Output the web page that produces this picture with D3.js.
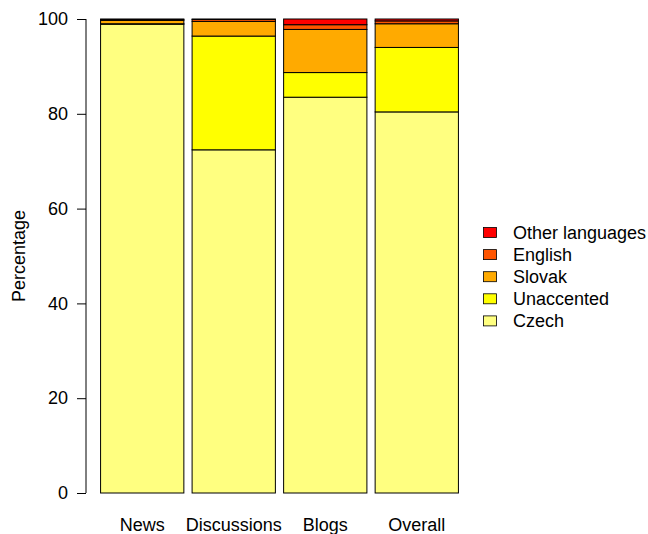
<!DOCTYPE html>
<html>
<head>
<meta charset="utf-8">
<script src="https://cdn.jsdelivr.net/npm/d3@7"></script>
<style>
  body { margin: 0; background: #fff; overflow: hidden; }
  text { font-family: "Liberation Sans", Arial, sans-serif; }
</style>
</head>
<body>
<script>
// Data
const categories = ["News", "Discussions", "Blogs", "Overall"];
const languages = ["Czech", "Unaccented", "Slovak", "English", "Other languages"];
const czech = [98.9, 72.4, 83.5, 80.4];
const unaccented = [0.1, 24.0, 5.2, 13.6];
const slovak = [0.7, 3.1, 9.1, 5.0];
const english = [0.2, 0.4, 1.0, 0.6];
const other = [0.1, 0.1, 1.2, 0.4];
const colors = ["#FFFF80", "#FFFF00", "#FFAA00", "#FF5500", "#FF0000"];
const yTicks = [0, 20, 40, 60, 80, 100];

const width = 648, height = 534;

const svg = d3.select("body").append("svg")
  .attr("width", width)
  .attr("height", height);

// table for stacking
const table = categories.map((c, i) => ({
  cat: c,
  "Czech": czech[i],
  "Unaccented": unaccented[i],
  "Slovak": slovak[i],
  "English": english[i],
  "Other languages": other[i]
}));
const series = d3.stack().keys(languages)(table);

// Scales
const x = d3.scaleBand()
  .domain(categories)
  .range([96, 463])
  .paddingInner(0.09)
  .paddingOuter(0.05);

const y = d3.scaleLinear()
  .domain([0, 100])
  .range([493, 19]);

// Bars
svg.append("g")
  .selectAll("g")
  .data(series)
  .join("g")
  .attr("fill", (d, i) => colors[i])
  .selectAll("rect")
  .data(d => d)
  .join("rect")
  .attr("x", d => x(d.data.cat))
  .attr("y", d => y(d[1]))
  .attr("width", x.bandwidth())
  .attr("height", d => y(d[0]) - y(d[1]))
  .attr("stroke", "#000")
  .attr("stroke-width", 1);

// Y axis
const yAxis = svg.append("g")
  .attr("transform", "translate(86,0)")
  .call(d3.axisLeft(y).tickValues(yTicks).tickSize(9).tickPadding(9));
yAxis.select(".domain").remove();
yAxis.append("line")
  .attr("x1", 0).attr("x2", 0)
  .attr("y1", y(0)).attr("y2", y(100))
  .attr("stroke", "#000");
yAxis.selectAll(".tick line").attr("stroke", "#000");
yAxis.selectAll(".tick text")
  .attr("fill", "#000")
  .style("font-size", "18px")
  .style("font-family", "Liberation Sans, Arial, sans-serif");

// Y label
svg.append("text")
  .attr("transform", `translate(25,${y(50)}) rotate(-90)`)
  .attr("text-anchor", "middle")
  .style("font-size", "18px")
  .text("Percentage");

// Category labels
svg.append("g")
  .selectAll("text")
  .data(categories)
  .join("text")
  .attr("x", d => x(d) + x.bandwidth() / 2)
  .attr("y", 531)
  .attr("text-anchor", "middle")
  .style("font-size", "18px")
  .text(d => d);

// Legend (top to bottom: reversed order)
const legendItems = languages.map((l, i) => ({ name: l, color: colors[i] })).reverse();
const legend = svg.append("g")
  .selectAll("g")
  .data(legendItems)
  .join("g")
  .attr("transform", (d, i) => `translate(483.5,${227.5 + i * 22.1})`);

legend.append("rect")
  .attr("width", 13)
  .attr("height", 10)
  .attr("fill", d => d.color)
  .attr("stroke", "#000")
  .attr("stroke-width", 0.8);

legend.append("text")
  .attr("x", 29.5)
  .attr("y", 11.5)
  .style("font-size", "18px")
  .text(d => d.name);
</script>
</body>
</html>
